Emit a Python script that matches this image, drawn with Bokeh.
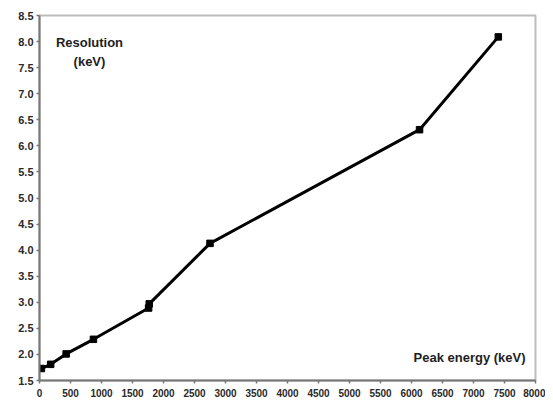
from bokeh.plotting import figure
from bokeh.models import Range1d, FixedTicker, Label, PrintfTickFormatter
from bokeh.embed import file_html
from bokeh.resources import INLINE

# Data
energy_kev = [30, 180, 430, 870, 1760, 1770, 2750, 6130, 7400]
resolution_kev = [1.73, 1.81, 2.01, 2.29, 2.89, 2.97, 4.13, 6.31, 8.09]

x_ticks = list(range(0, 8001, 500))
y_ticks = [1.5 + 0.5 * i for i in range(15)]

FONT = "Liberation Sans"

p = figure(width=545, height=400, output_backend="svg", toolbar_location=None,
           x_range=Range1d(0, 8000), y_range=Range1d(1.5, 8.5),
           min_border_left=39, min_border_right=10, min_border_top=15, min_border_bottom=20)

p.grid.visible = False
p.background_fill_color = "white"
p.border_fill_color = "white"
p.outline_line_color = "#bcbcbc"
p.outline_line_width = 2

p.line(energy_kev, resolution_kev, line_color="black", line_width=3)
p.scatter(energy_kev, resolution_kev, marker="square", size=6.5, color="black")

for ax in (p.xaxis[0], p.yaxis[0]):
    ax.axis_line_color = "#777777"
    ax.axis_line_width = 2
    ax.major_tick_line_color = "#777777"
    ax.major_tick_line_width = 1.5
    ax.major_tick_in = 0
    ax.major_tick_out = 3
    ax.minor_tick_line_color = None
    ax.major_label_text_font = FONT
    ax.major_label_text_font_style = "bold"
    ax.major_label_text_color = "#2a2a2a"

p.xaxis[0].ticker = FixedTicker(ticks=x_ticks)
p.yaxis[0].ticker = FixedTicker(ticks=y_ticks)
p.yaxis[0].formatter = PrintfTickFormatter(format="%.1f")
p.xaxis[0].major_label_text_font_size = "10px"
p.yaxis[0].major_label_text_font_size = "11px"
p.xaxis[0].major_label_standoff = 5
p.yaxis[0].major_label_standoff = 3

p.add_layout(Label(x=806, y=7.98, text="Resolution", text_font=FONT, text_font_style="bold",
                   text_font_size="13px", text_color="#1e1e1e", text_align="center",
                   text_baseline="alphabetic"))
p.add_layout(Label(x=806, y=7.62, text="(keV)", text_font=FONT, text_font_style="bold",
                   text_font_size="13px", text_color="#1e1e1e", text_align="center",
                   text_baseline="alphabetic"))
p.add_layout(Label(x=7840, y=1.95, text="Peak energy (keV)", text_font=FONT, text_font_style="bold",
                   text_font_size="13px", text_color="#1e1e1e", text_align="right",
                   text_baseline="alphabetic"))

open("out.html", "w").write(file_html(p, INLINE))
